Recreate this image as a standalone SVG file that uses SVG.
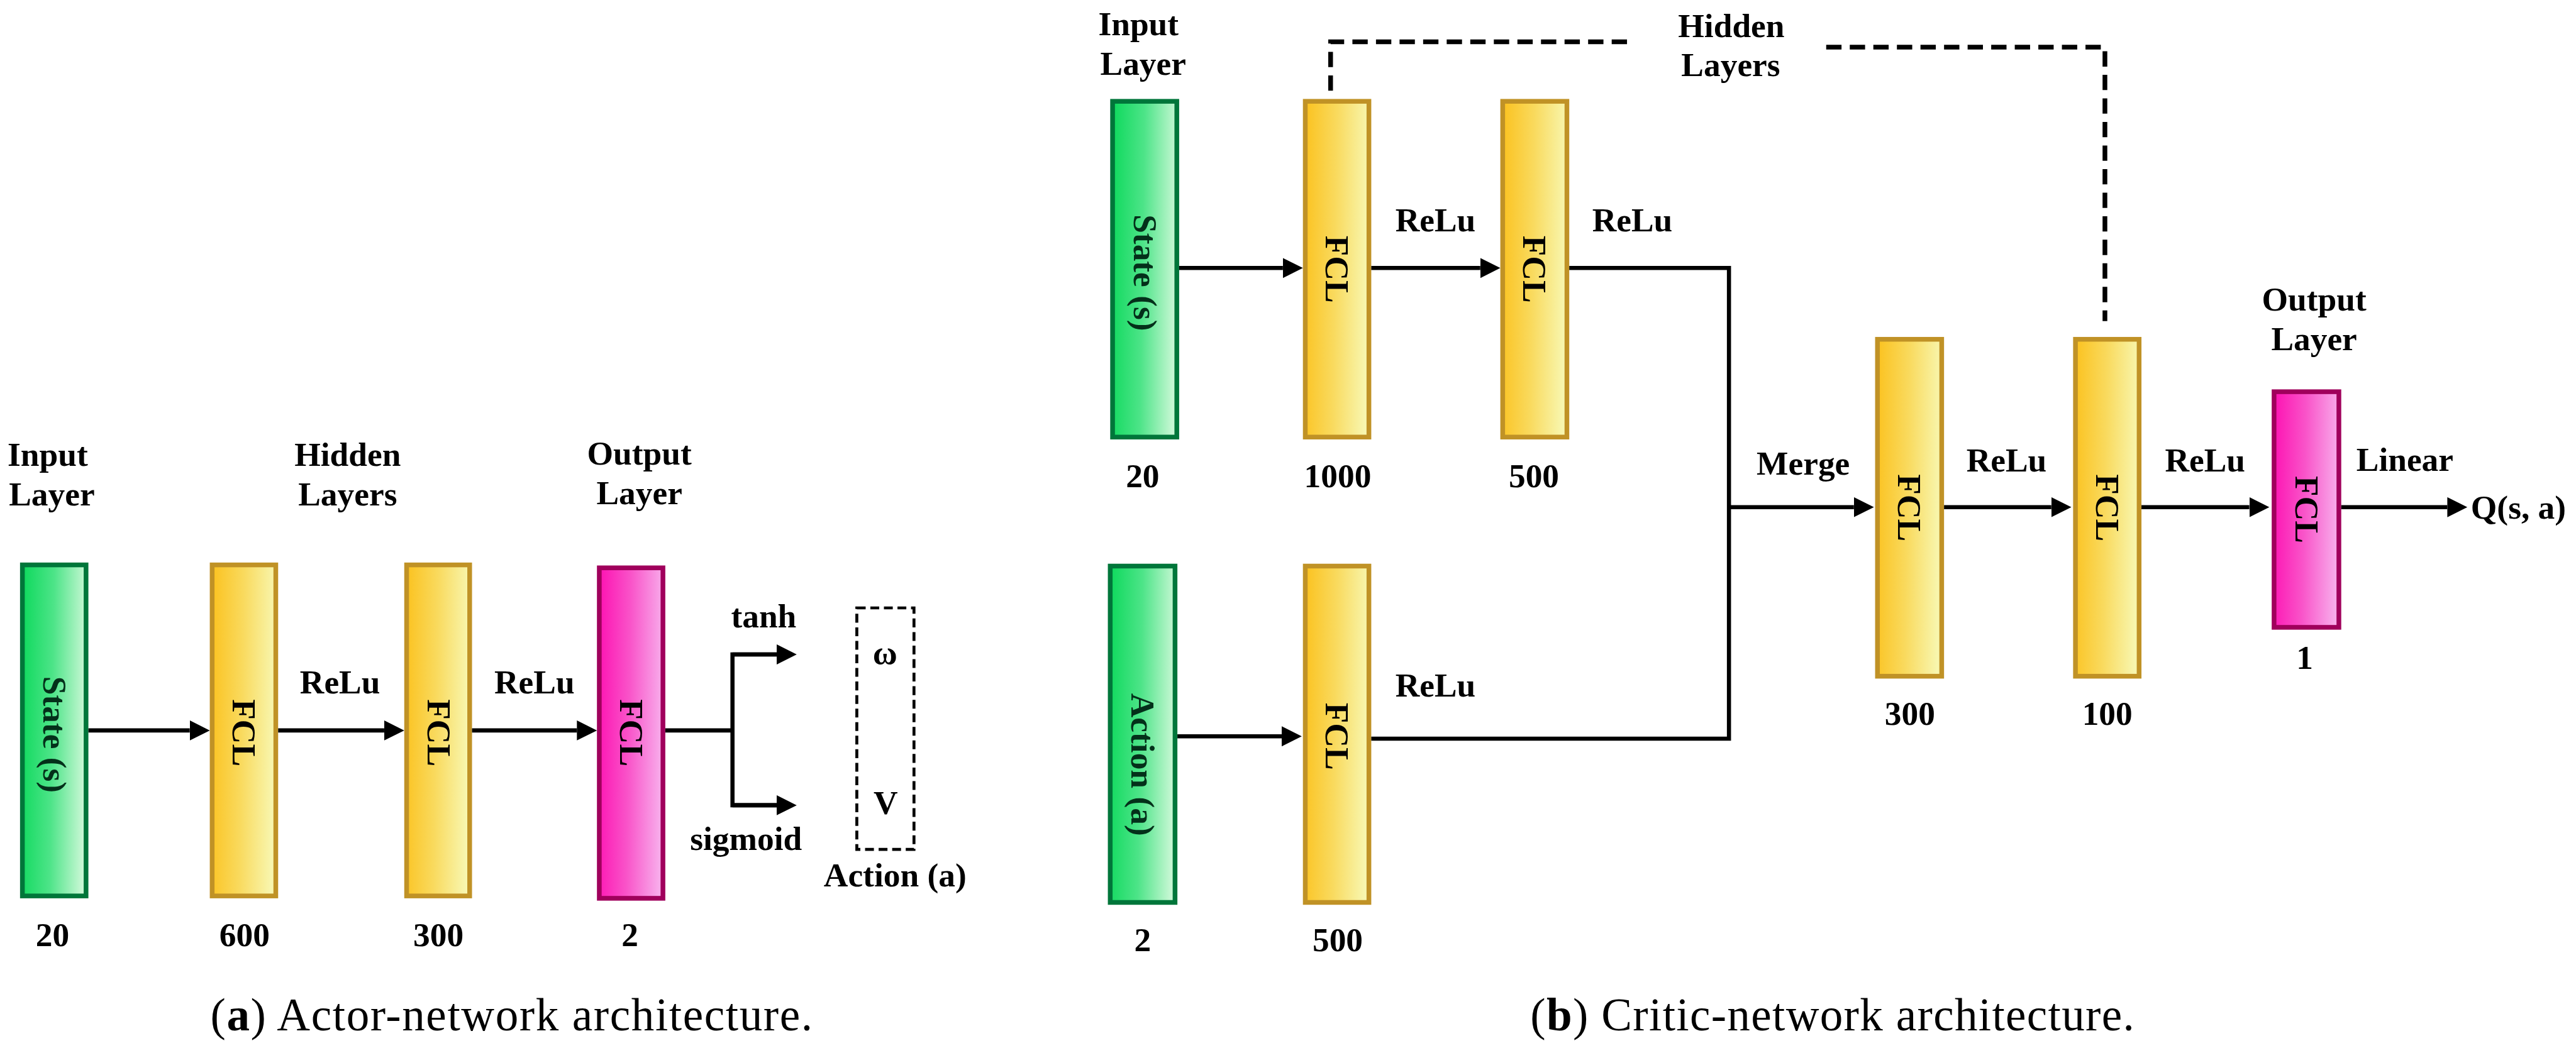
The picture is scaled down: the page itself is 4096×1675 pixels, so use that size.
<svg xmlns="http://www.w3.org/2000/svg" width="4096" height="1675" viewBox="0 0 4096 1675">
<defs>
<linearGradient id="gGreen" x1="0" y1="0" x2="1" y2="0.08">
<stop offset="0" stop-color="#0dd95c"/><stop offset="0.5" stop-color="#4de488"/><stop offset="1" stop-color="#c6f7d3"/>
</linearGradient>
<linearGradient id="gYellow" x1="0" y1="0" x2="1" y2="0.08">
<stop offset="0" stop-color="#fbc21f"/><stop offset="0.5" stop-color="#f9da5e"/><stop offset="1" stop-color="#f8f6ae"/>
</linearGradient>
<linearGradient id="gPink" x1="0" y1="0" x2="1" y2="0.08">
<stop offset="0" stop-color="#fd12b2"/><stop offset="0.5" stop-color="#f954c9"/><stop offset="1" stop-color="#f8aaea"/>
</linearGradient>
<marker id="arr" markerUnits="userSpaceOnUse" markerWidth="36" markerHeight="36" refX="0" refY="17" orient="auto" viewBox="0 0 36 36">
<path d="M0,0 L34,17 L0,34 Z" fill="#000"/>
</marker>
<style>
.green{fill:url(#gGreen);stroke:#00763a;stroke-width:8}
.yellow{fill:url(#gYellow);stroke:#c09226;stroke-width:8}
.pink{fill:url(#gPink);stroke:#a0005c;stroke-width:8}
text{font-family:"Liberation Serif","Times New Roman",serif;font-weight:bold;font-size:57px;fill:#000}
.c{text-anchor:middle}
.rot{text-anchor:middle}
.gt{fill:#04301a}
.cap{font-weight:normal;font-size:78px}
.ln{fill:none;stroke:#000;stroke-width:7}
.dash{fill:none;stroke:#000;stroke-width:8;stroke-dasharray:26 14}
.dbox{fill:none;stroke:#000;stroke-width:5;stroke-dasharray:15 8}
</style>
</defs>
<g transform="scale(0.937)">
<!-- Actor network -->
<g id="actor-input">
<rect class="green" x="38" y="959" width="108" height="562"/>
<text class="rot gt" transform="translate(92,1247) rotate(90)" dy="0.33em">State (s)</text>
<text class="c" x="81" y="791">Input</text>
<text class="c" x="88" y="858">Layer</text>
<text class="c" x="89" y="1606">20</text>
</g>
<g id="actor-fcl1">
<rect class="yellow" x="360" y="959" width="108" height="562"/>
<text class="rot" transform="translate(414,1244) rotate(90)" dy="0.33em">FCL</text>
<text class="c" x="415" y="1606">600</text>
</g>
<g id="actor-fcl2">
<rect class="yellow" x="690" y="959" width="107" height="562"/>
<text class="rot" transform="translate(744,1244) rotate(90)" dy="0.33em">FCL</text>
<text class="c" x="744" y="1606">300</text>
</g>
<g id="actor-hidden-label">
<text class="c" x="590" y="791">Hidden</text>
<text class="c" x="590" y="858">Layers</text>
</g>
<g id="actor-output">
<rect class="pink" x="1017" y="964" width="108" height="561"/>
<text class="rot" transform="translate(1071,1244) rotate(90)" dy="0.33em">FCL</text>
<text class="c" x="1085" y="789">Output</text>
<text class="c" x="1085" y="856">Layer</text>
<text class="c" x="1069" y="1606">2</text>
</g>
<g id="actor-action">
<rect class="dbox" x="1454" y="1032" width="97" height="410"/>
<text class="c" x="1502" y="1127">ω</text>
<text class="c" x="1503" y="1382">V</text>
<text class="c" x="1519" y="1505">Action (a)</text>
</g>
<g id="actor-connectors">
<path class="ln" d="M150,1240 H322" marker-end="url(#arr)"/>
<path class="ln" d="M472,1240 H652" marker-end="url(#arr)"/>
<path class="ln" d="M801,1240 H979" marker-end="url(#arr)"/>
<path class="ln" d="M1129,1240 H1243"/>
<path class="ln" d="M1318,1111 H1243 V1367 H1318"/>
<path class="ln" d="M1243,1111 H1318" marker-end="url(#arr)"/>
<path class="ln" d="M1243,1367 H1318" marker-end="url(#arr)"/>
<text class="c" x="577" y="1177">ReLu</text>
<text class="c" x="907" y="1177">ReLu</text>
<text class="c" x="1296" y="1065">tanh</text>
<text class="c" x="1266" y="1443">sigmoid</text>
</g>
<!-- Critic network -->
<g id="critic-state">
<rect class="green" x="1888" y="172" width="109" height="570"/>
<text class="rot gt" transform="translate(1943,463) rotate(90)" dy="0.33em">State (s)</text>
<text class="c" x="1932" y="60">Input</text>
<text class="c" x="1940" y="127">Layer</text>
<text class="c" x="1939" y="827">20</text>
</g>
<g id="critic-fcl-a">
<rect class="yellow" x="2215" y="172" width="108" height="570"/>
<text class="rot" transform="translate(2269,457) rotate(90)" dy="0.33em">FCL</text>
<text class="c" x="2270" y="827">1000</text>
</g>
<g id="critic-fcl-b">
<rect class="yellow" x="2550" y="172" width="109" height="570"/>
<text class="rot" transform="translate(2604,457) rotate(90)" dy="0.33em">FCL</text>
<text class="c" x="2603" y="827">500</text>
</g>
<g id="critic-action">
<rect class="green" x="1884" y="961" width="110" height="571"/>
<text class="rot gt" transform="translate(1939,1298) rotate(90)" dy="0.33em">Action (a)</text>
<text class="c" x="1939" y="1615">2</text>
</g>
<g id="critic-fcl-c">
<rect class="yellow" x="2215" y="961" width="108" height="571"/>
<text class="rot" transform="translate(2269,1250) rotate(90)" dy="0.33em">FCL</text>
<text class="c" x="2270" y="1615">500</text>
</g>
<g id="critic-fcl-d">
<rect class="yellow" x="3186" y="576" width="109" height="572"/>
<text class="rot" transform="translate(3240,862) rotate(90)" dy="0.33em">FCL</text>
<text class="c" x="3241" y="1231">300</text>
</g>
<g id="critic-fcl-e">
<rect class="yellow" x="3522" y="576" width="108" height="572"/>
<text class="rot" transform="translate(3576,862) rotate(90)" dy="0.33em">FCL</text>
<text class="c" x="3576" y="1231">100</text>
</g>
<g id="critic-output">
<rect class="pink" x="3859" y="665" width="110" height="400"/>
<text class="rot" transform="translate(3914,865) rotate(90)" dy="0.33em">FCL</text>
<text class="c" x="3927" y="527">Output</text>
<text class="c" x="3927" y="594">Layer</text>
<text class="c" x="3911" y="1136">1</text>
</g>
<g id="critic-hidden-label">
<text class="c" x="2938" y="63">Hidden</text>
<text class="c" x="2937" y="129">Layers</text>
</g>
<g id="critic-connectors">
<path class="dash" d="M2258,154 V71 H2770"/>
<path class="dash" d="M3099,80 H3572 V545"/>
<path class="ln" d="M2001,455 H2177" marker-end="url(#arr)"/>
<path class="ln" d="M2327,455 H2512" marker-end="url(#arr)"/>
<path class="ln" d="M1998,1250 H2175" marker-end="url(#arr)"/>
<path class="ln" d="M2663,455 H2934 V1254 H2327"/>
<path class="ln" d="M2934,861 H3146" marker-end="url(#arr)"/>
<path class="ln" d="M3299,861 H3481" marker-end="url(#arr)"/>
<path class="ln" d="M3634,861 H3817" marker-end="url(#arr)"/>
<path class="ln" d="M3973,861 H4153" marker-end="url(#arr)"/>
<text class="c" x="2436" y="393">ReLu</text>
<text class="c" x="2770" y="393">ReLu</text>
<text class="c" x="2436" y="1183">ReLu</text>
<text class="c" x="3060" y="806">Merge</text>
<text class="c" x="3405" y="800">ReLu</text>
<text class="c" x="3742" y="800">ReLu</text>
<text class="c" x="4081" y="799">Linear</text>
<text x="4193" y="880">Q(s, a)</text>
</g>
<!-- Captions -->
<text class="cap" x="357" y="1749" textLength="1022" lengthAdjust="spacing">(<tspan font-weight="bold">a</tspan>) Actor-network architecture.</text>
<text class="cap" x="2597" y="1749" textLength="1025" lengthAdjust="spacing">(<tspan font-weight="bold">b</tspan>) Critic-network architecture.</text>
</g>
</svg>
